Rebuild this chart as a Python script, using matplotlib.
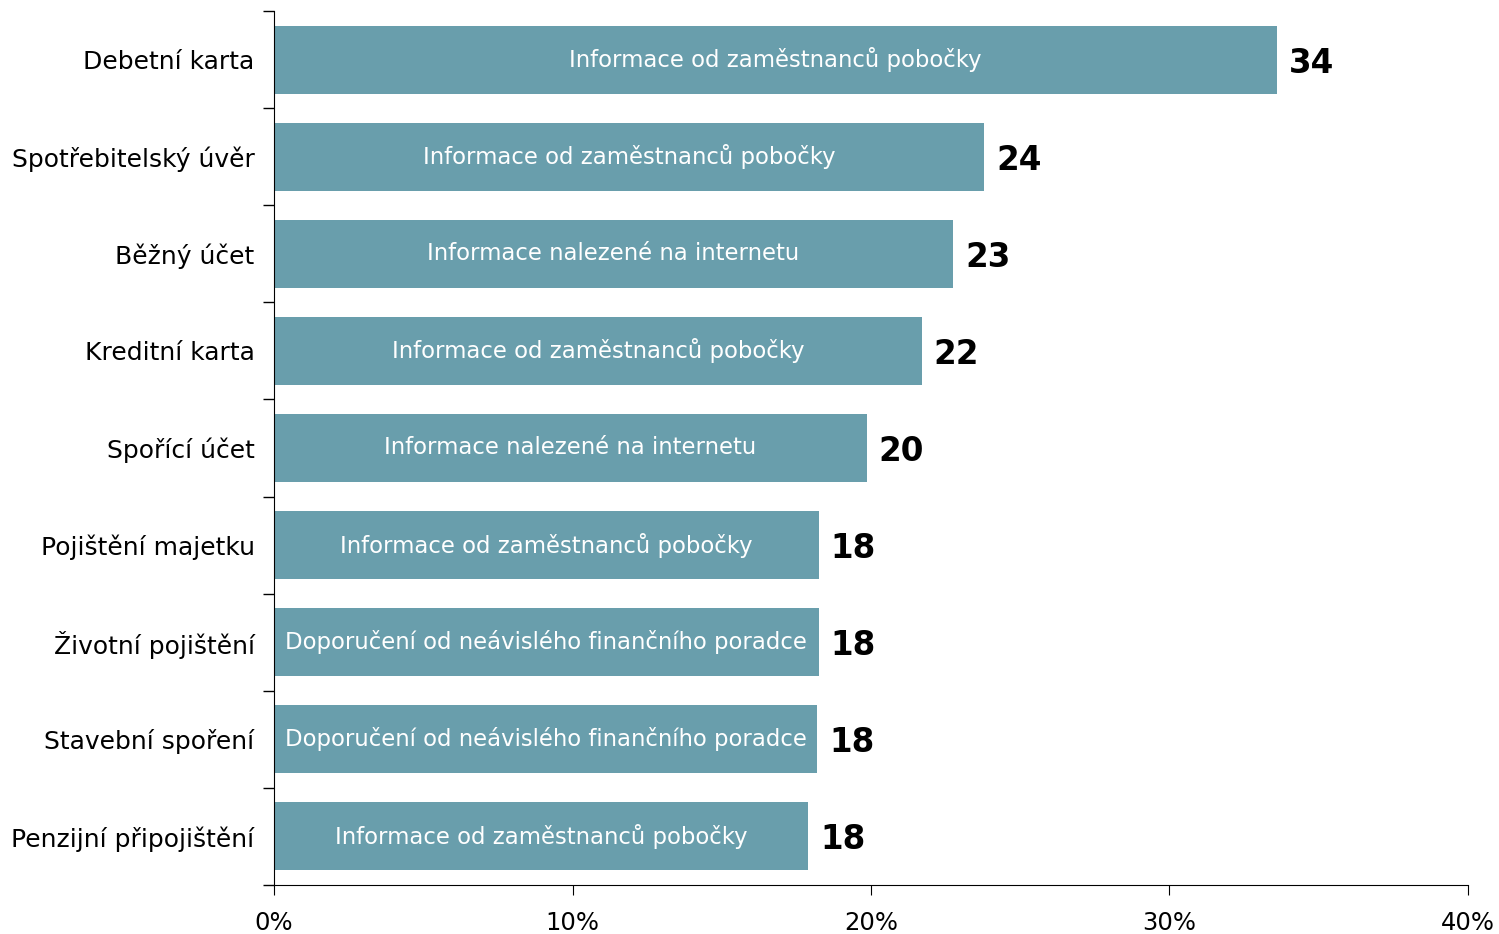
import matplotlib.pyplot as plt
import numpy as np

categories = ["Debetní karta", "Spotřebitelský úvěr", "Běžný účet", "Kreditní karta",
              "Spořící účet", "Pojištění majetku", "Životní pojištění",
              "Stavební spoření", "Penzijní připojištění"]
values = [33.6, 23.8, 22.75, 21.7, 19.85, 18.25, 18.25, 18.2, 17.9]
value_labels = ["34", "24", "23", "22", "20", "18", "18", "18", "18"]
inner_labels = ["Informace od zaměstnanců pobočky",
                "Informace od zaměstnanců pobočky",
                "Informace nalezené na internetu",
                "Informace od zaměstnanců pobočky",
                "Informace nalezené na internetu",
                "Informace od zaměstnanců pobočky",
                "Doporučení od neávislého finančního poradce",
                "Doporučení od neávislého finančního poradce",
                "Informace od zaměstnanců pobočky"]
xticks = [0, 10, 20, 30, 40]

fig = plt.figure(figsize=(14.99, 9.34), dpi=100)
ax = fig.add_axes([0.1828, 0.0525, 0.7965, 0.9357])

y = np.arange(len(categories))
ax.barh(y, values, height=0.7, color="#699EAC")

for i in range(len(categories)):
    ax.text(values[i] / 2, y[i], inner_labels[i], ha="center", va="center",
            color="white", fontsize=16.4)
    ax.text(values[i] + 0.4, y[i], value_labels[i], ha="left", va="center_baseline",
            fontsize=23.5, fontweight="bold")

ax.set_xlim(0, 40)
ax.set_ylim(len(categories) - 0.5, -0.5)
ax.set_xticks(xticks)
ax.set_xticklabels([f"{t}%" for t in xticks], fontsize=17.5)
ax.set_yticks(y)
ax.set_yticklabels(categories, fontsize=18)
ax.tick_params(axis="y", length=0, pad=14)
ax.set_yticks(np.arange(-0.5, len(categories)), minor=True)
ax.tick_params(axis="y", which="minor", length=8, width=1)
ax.tick_params(axis="x", length=7, pad=12)

for s in ["top", "right"]:
    ax.spines[s].set_visible(False)

plt.savefig("out.png", dpi=100)
